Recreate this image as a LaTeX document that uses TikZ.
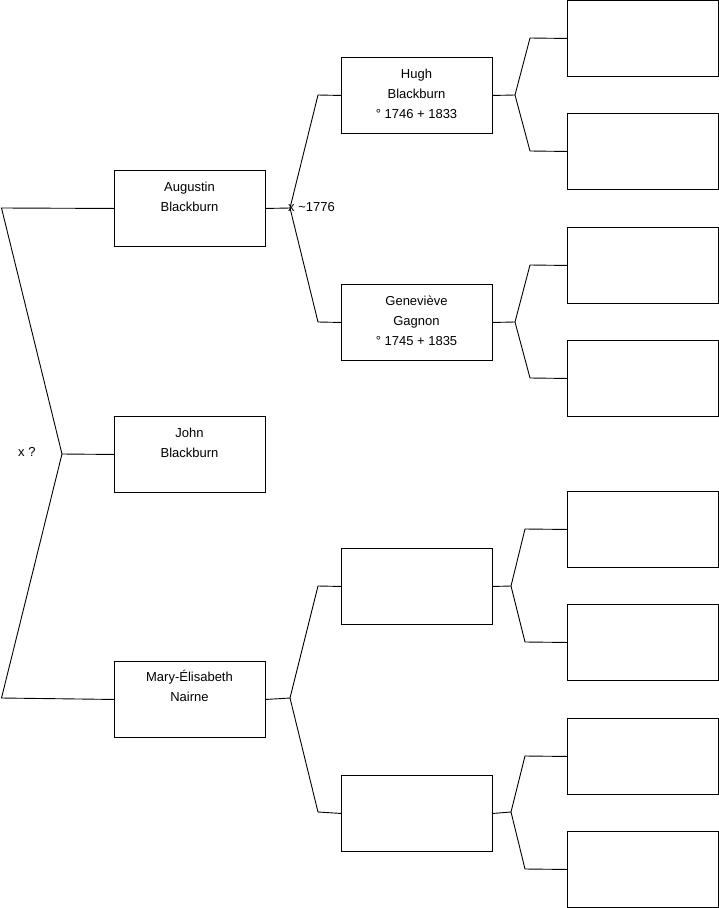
\documentclass[tikz,border=0pt]{standalone}
\usepackage{fontspec}
\setmainfont{Liberation Sans}
\begin{document}
\begin{tikzpicture}[x=1pt,y=-1pt,
  person/.style={draw=black, line width=0.9pt, minimum width=151pt, minimum height=76pt, inner sep=0pt, anchor=north west},
  txt/.style={align=center, inner sep=0pt, font=\fontsize{13}{20}\selectfont},
  lbl/.style={inner sep=0pt, font=\fontsize{13}{15}\selectfont, anchor=west},
  conn/.style={draw=black, line width=0.9pt}]
\useasboundingbox (0,0) rectangle (719,908);
% column 1
\node[person] (aug) at (114,170) {};
\node[person] (john) at (114,416) {};
\node[person] (mary) at (114,661) {};
% column 2
\node[person] (hugh) at (341,57) {};
\node[person] (gen) at (341,284) {};
\node[person] (b1) at (341,548) {};
\node[person] (b2) at (341,775) {};
% column 3
\node[person] (c1) at (567,0) {};
\node[person] (c2) at (567,113) {};
\node[person] (c3) at (567,227) {};
\node[person] (c4) at (567,340) {};
\node[person] (c5) at (567,491) {};
\node[person] (c6) at (567,604) {};
\node[person] (c7) at (567,718) {};
\node[person] (c8) at (567,831) {};
% texts
\node[txt] (taug) at (189.5,196.5) {Augustin\\Blackburn};
\node[txt] (tjohn) at (189.5,442.5) {John\\Blackburn};
\node[txt] (tmary) at (189.5,686) {Mary-Élisabeth\\Nairne};
\node[txt] (thugh) at (416.5,93.5) {Hugh\\Blackburn\\° 1746 + 1833};
\node[txt] (tgen) at (416.5,320.5) {Geneviève\\Gagnon\\° 1745 + 1835};
% left fork
\coordinate (fa) at (1.5,208);
\coordinate (fv) at (62,454);
\coordinate (fm) at (1.5,698);
\draw[conn] (aug.west) -- (fa) -- (fv) -- (fm) -- (mary.west);
\draw[conn] (fv) -- (john.west);
\node[lbl] (lx) at (18,452) {x ?};
% Augustin fork
\coordinate (av) at (290,208);
\draw[conn] (aug.east) -- (av);
\draw[conn] (hugh.west) -- (318,95) -- (av) -- (318,322) -- (gen.west);
\node[lbl] (la) at (288,207.5) {x \textasciitilde1776};
% Mary fork
\coordinate (mv) at (290,698);
\draw[conn] (mary.east) -- (mv);
\draw[conn] (b1.west) -- (318,586) -- (mv) -- (318,812) -- (b2.west);
% Hugh fork
\coordinate (hv) at (515,95);
\draw[conn] (hugh.east) -- (hv);
\draw[conn] (c1.west) -- (530,38) -- (hv) -- (530,151) -- (c2.west);
% Genevieve fork
\coordinate (gv) at (515,322);
\draw[conn] (gen.east) -- (gv);
\draw[conn] (c3.west) -- (530,265) -- (gv) -- (530,378) -- (c4.west);
% b1 fork
\coordinate (b1v) at (511,586);
\draw[conn] (b1.east) -- (b1v);
\draw[conn] (c5.west) -- (525,529) -- (b1v) -- (525,642) -- (c6.west);
% b2 fork
\coordinate (b2v) at (511,812);
\draw[conn] (b2.east) -- (b2v);
\draw[conn] (c7.west) -- (525,756) -- (b2v) -- (525,869) -- (c8.west);
\end{tikzpicture}
\end{document}
